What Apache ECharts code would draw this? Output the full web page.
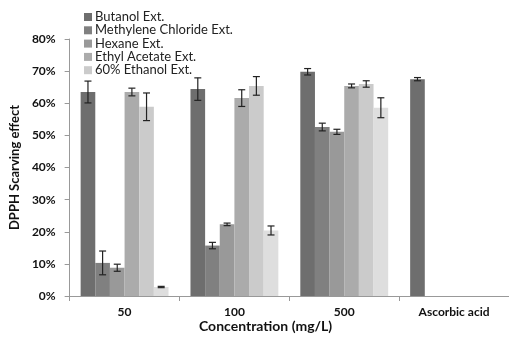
<!DOCTYPE html>
<html>
<head>
<meta charset="utf-8">
<script src="https://cdn.jsdelivr.net/npm/echarts@6/dist/echarts.min.js"></script>
<style>html,body{margin:0;padding:0;background:#fff}#c{width:509px;height:338px}</style>
</head>
<body>
<div id="c"></div>
<script>
var categories = ['50', '100', '500', 'Ascorbic acid'];
var seriesNames = ['Butanol Ext.', 'Methylene Chloride Ext.', 'Hexane Ext.', 'Ethyl Acetate Ext.', '60% Ethanol Ext.', 'Extract 6'];
var legendNames = ['Butanol Ext.', 'Methylene Chloride Ext.', 'Hexane Ext.', 'Ethyl Acetate Ext.', '60% Ethanol Ext.'];
var colors = ['#6e6e6e', '#808080', '#999999', '#ababab', '#cbcbcb', '#dedede'];

var butanol      = [63.5, 64.4, 69.8, 67.5];
var methylene    = [10.3, 15.7, 52.6, null];
var hexane       = [8.8, 22.3, 51.1, null];
var ethylAcetate = [63.5, 61.6, 65.4, null];
var ethanol60    = [58.9, 65.4, 66.0, null];
var extract6     = [2.8, 20.4, 58.6, null];

var butanolErr      = [3.4, 3.5, 1.0, 0.5];
var methyleneErr    = [3.7, 1.0, 1.2, null];
var hexaneErr       = [1.1, 0.4, 0.8, null];
var ethylAcetateErr = [1.2, 2.6, 0.6, null];
var ethanol60Err    = [4.3, 2.9, 1.0, null];
var extract6Err     = [0.2, 1.4, 3.1, null];

var yTicks = [0, 10, 20, 30, 40, 50, 60, 70, 80];

var values = [butanol, methylene, hexane, ethylAcetate, ethanol60, extract6];
var errors = [butanolErr, methyleneErr, hexaneErr, ethylAcetateErr, ethanol60Err, extract6Err];
var font = 'Lato';
var nBars = values.length;
var catGap = 0.2;

var series = [];
values.forEach(function (vals, si) {
  series.push({
    type: 'bar', name: seriesNames[si],
    data: vals.map(function (v) { return v === null ? '-' : v; }),
    itemStyle: { color: colors[si] },
    barGap: '0%', barCategoryGap: '20%'
  });
});
values.forEach(function (vals, si) {
  var d = [];
  vals.forEach(function (v, ci) {
    if (v !== null && errors[si][ci] !== null) d.push([ci, v - errors[si][ci], v + errors[si][ci]]);
  });
  series.push({
    type: 'custom', name: seriesNames[si], z: 10,
    encode: { x: 0, y: [1, 2] },
    data: d,
    renderItem: function (params, api) {
      var c = api.value(0);
      var lo = api.coord([c, api.value(1)]);
      var hi = api.coord([c, api.value(2)]);
      var cw = api.size([1, 0])[0];
      var bw = cw * (1 - catGap) / nBars;
      var x = lo[0] - cw * (1 - catGap) / 2 + bw * (si + 0.5);
      var h = 3.5;
      var st = { stroke: '#222', lineWidth: 1.2 };
      return { type: 'group', children: [
        { type: 'line', shape: { x1: x, y1: hi[1], x2: x, y2: lo[1] }, style: st },
        { type: 'line', shape: { x1: x - h, y1: hi[1], x2: x + h, y2: hi[1] }, style: st },
        { type: 'line', shape: { x1: x - h, y1: lo[1], x2: x + h, y2: lo[1] }, style: st }
      ]};
    }
  });
});

var chart = echarts.init(document.getElementById('c'), null, { renderer: 'canvas' });
chart.setOption({
  animation: false,
  color: colors,
  grid: { left: 66, right: 0, top: 39, bottom: 42, containLabel: false },
  legend: {
    data: legendNames, orient: 'vertical', left: 79, top: 5.5,
    itemWidth: 8, itemHeight: 8, itemGap: 0.3,
    icon: 'rect',
    textStyle: { fontFamily: font, fontSize: 13, lineHeight: 13, color: '#222', padding: [0, 0, 0, -2] }
  },
  xAxis: {
    type: 'category', data: categories,
    axisLine: { lineStyle: { color: '#999' } },
    axisTick: { show: true, length: 5, lineStyle: { color: '#999' } },
    axisLabel: { fontFamily: font, fontSize: 12, fontWeight: 'bold', color: '#111', margin: 10 }
  },
  yAxis: {
    type: 'value', min: 0, max: 80, interval: 10,
    name: 'DPPH Scarving effect', nameLocation: 'middle', nameGap: 46,
    nameTextStyle: { fontFamily: font, fontSize: 13, fontWeight: 'bold', color: '#111' },
    axisLine: { show: true, lineStyle: { color: '#999' } },
    axisTick: { show: true, length: 5, lineStyle: { color: '#999' } },
    splitLine: { show: false },
    axisLabel: { fontFamily: font, fontSize: 12, fontWeight: 'bold', color: '#111', margin: 14,
      formatter: function (v) { return yTicks.indexOf(v) >= 0 ? v + '%' : ''; } }
  },
  graphic: [{
    type: 'text', left: 199, top: 319,
    style: { text: 'Concentration (mg/L)', font: 'bold 14px ' + font, fill: '#111' }
  }],
  series: series
});
</script>
</body>
</html>
